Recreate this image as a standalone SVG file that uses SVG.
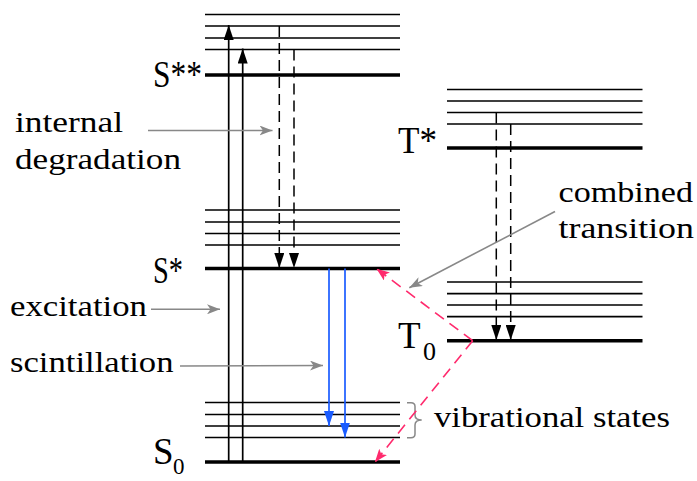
<svg xmlns="http://www.w3.org/2000/svg" width="697" height="481" viewBox="0 0 697 481">
<style>
.thin{stroke:#000;stroke-width:1.7;fill:none}
.thick{stroke:#000;stroke-width:3.5;fill:none}
.txt{font-family:"Liberation Serif","Times New Roman",serif;font-size:30px;fill:#000}
.lbl{font-family:"Liberation Serif","Times New Roman",serif;font-size:37px;fill:#000}
.sub{font-size:26px}
.exc{stroke:#000;stroke-width:1.7;fill:none;marker-end:url(#ab)}
.deg{stroke:#000;stroke-width:1.5;fill:none;stroke-dasharray:11 6;marker-end:url(#ab)}
.sci{stroke:#1a5cff;stroke-width:1.7;fill:none;marker-end:url(#abl)}
.comb{stroke:#ff2a6d;stroke-width:1.6;fill:none;stroke-dasharray:11 7;marker-end:url(#ap)}
.ptr{stroke:#888;stroke-width:1.6;fill:none;marker-end:url(#ag)}
</style>
<defs>
<marker id="ab" markerUnits="userSpaceOnUse" viewBox="0 0 15 10" markerWidth="15" markerHeight="10" refX="15" refY="5" orient="auto"><path d="M0,0 L15,5 L0,10 z" fill="#000"/></marker>
<marker id="abl" markerUnits="userSpaceOnUse" viewBox="0 0 15 10" markerWidth="15" markerHeight="10" refX="15" refY="5" orient="auto"><path d="M0,0 L15,5 L0,10 z" fill="#1a5cff"/></marker>
<marker id="ap" markerUnits="userSpaceOnUse" viewBox="0 0 13 10" markerWidth="13" markerHeight="10" refX="13" refY="5" orient="auto"><path d="M0,0 L13,5 L0,10 L3,5 z" fill="#ff2a6d"/></marker>
<marker id="ag" markerUnits="userSpaceOnUse" viewBox="0 0 13 10" markerWidth="13" markerHeight="10" refX="13" refY="5" orient="auto"><path d="M0,0 L13,5 L0,10 L3.5,5 z" fill="#888"/></marker>
</defs>

<g id="level-S2">
<path class="thin" d="M205,14.5H400M205,26H400M205,38H400M205,49.5H400"/>
<path class="thick" d="M205,75H400"/>
<text class="lbl" x="153" y="87" textLength="49" lengthAdjust="spacingAndGlyphs">S**</text>
</g>
<g id="level-S1">
<path class="thin" d="M205,210H400M205,222H400M205,233.5H400M205,245H400"/>
<path class="thick" d="M205,268.5H400"/>
<text class="lbl" x="153" y="283" textLength="30" lengthAdjust="spacingAndGlyphs">S*</text>
</g>
<g id="level-S0">
<path class="thin" d="M205,402.5H400M205,414.5H400M205,426H400M205,437.5H400"/>
<path class="thick" d="M205,462H400"/>
<text class="lbl" x="153" y="464">S<tspan x="173" y="474" style="font-size:23px">0</tspan></text>
</g>
<g id="level-T1">
<path class="thin" d="M447,89.5H642.5M447,101H642.5M447,112.5H642.5M447,124H642.5"/>
<path class="thick" d="M447,148H642.5"/>
<text class="lbl" x="398" y="153" textLength="39" lengthAdjust="spacingAndGlyphs">T*</text>
</g>
<g id="level-T0">
<path class="thin" d="M447,282H642.5M447,293.7H642.5M447,305H642.5M447,316.7H642.5"/>
<path class="thick" d="M447,340.7H642.5"/>
<text class="lbl" x="398" y="348.3">T<tspan class="sub" x="423" y="360">0</tspan></text>
</g>

<g id="labels">
<text class="txt" x="15" y="131.5" textLength="108" lengthAdjust="spacingAndGlyphs">internal</text>
<text class="txt" x="15" y="168.5" textLength="166" lengthAdjust="spacingAndGlyphs">degradation</text>
<text class="txt" x="10" y="316.3" textLength="137" lengthAdjust="spacingAndGlyphs">excitation</text>
<text class="txt" x="10" y="372" textLength="163.5" lengthAdjust="spacingAndGlyphs">scintillation</text>
<text class="txt" x="558.5" y="201.5" textLength="134.5" lengthAdjust="spacingAndGlyphs">combined</text>
<text class="txt" x="558.5" y="238" textLength="135.5" lengthAdjust="spacingAndGlyphs">transition</text>
<text class="txt" x="434" y="427" textLength="236" lengthAdjust="spacingAndGlyphs">vibrational states</text>
<path d="M407,402.7H411Q415,402.7 415,406.5V415Q415,420 421.7,420Q415,420 415,425V434Q415,437.7 411,437.7H407" stroke="#888" stroke-width="1.5" fill="none"/>
</g>

<g id="connectors">
<line class="exc" x1="228.7" y1="462" x2="228.7" y2="25"/>
<line class="exc" x1="242.7" y1="462" x2="242.7" y2="48.5"/>
<line class="deg" x1="279.3" y1="26" x2="279.3" y2="268"/>
<line class="deg" x1="294" y1="49.5" x2="294" y2="268"/>
<line class="sci" x1="329" y1="268.5" x2="329" y2="426"/>
<line class="sci" x1="345" y1="268.5" x2="345" y2="437.5"/>
<line class="deg" x1="496.3" y1="112.5" x2="496.3" y2="340"/>
<line class="deg" x1="510.7" y1="124" x2="510.7" y2="340"/>
<line class="comb" x1="472.7" y1="340.7" x2="376.5" y2="268.7"/>
<line class="comb" x1="472.7" y1="340.7" x2="375" y2="462"/>
<line class="ptr" x1="148" y1="130.5" x2="272.5" y2="130.5"/>
<line class="ptr" x1="151" y1="309.3" x2="220" y2="309.3"/>
<line class="ptr" x1="180" y1="366" x2="323" y2="365.5"/>
<line class="ptr" x1="555" y1="211.5" x2="409.3" y2="287.7"/>
</g>
</svg>
